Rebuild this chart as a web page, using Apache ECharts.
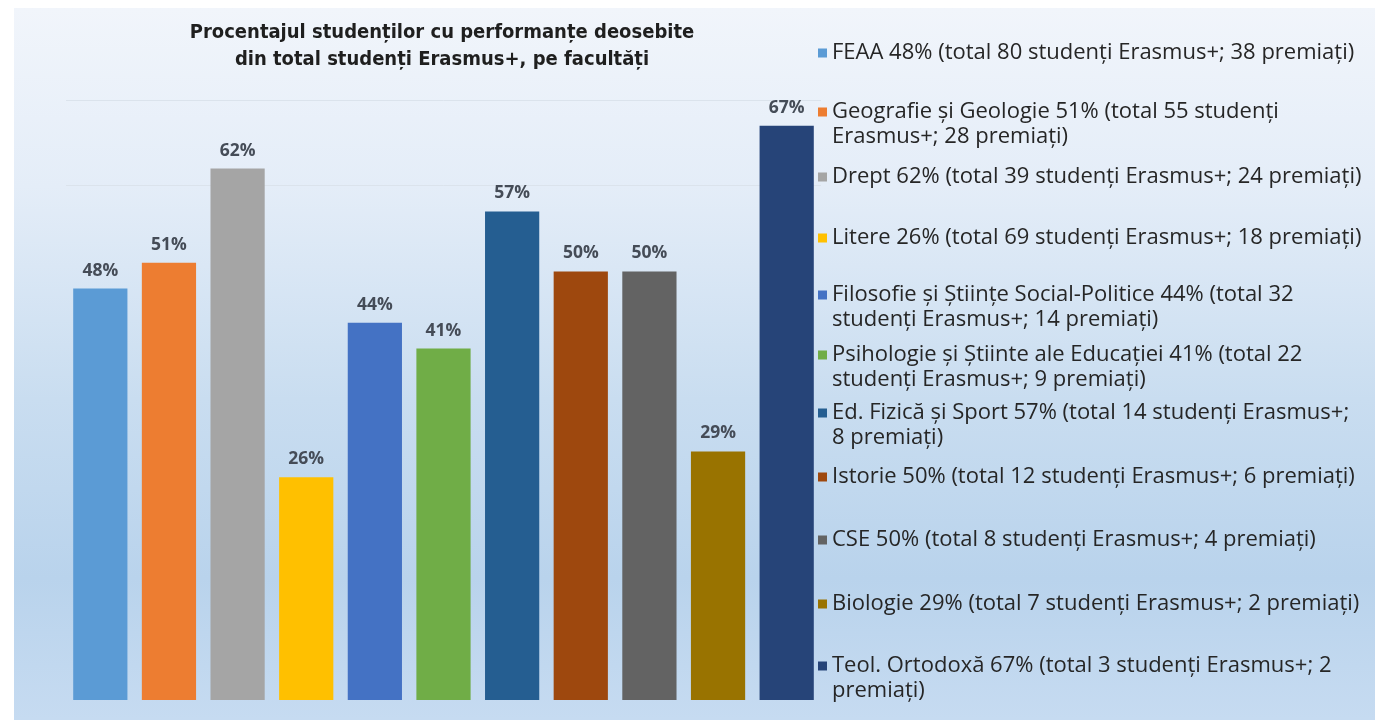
<!DOCTYPE html>
<html>
<head>
<meta charset="utf-8">
<script src="https://cdn.jsdelivr.net/npm/echarts@6/dist/echarts.min.js"></script>
<style>
html,body{margin:0;padding:0;background:#ffffff;}
#main{width:1375px;height:720px;}
</style>
</head>
<body>
<div id="main"></div>
<script>
// ---- data ----
const faculties = ['FEAA', 'Geografie și Geologie', 'Drept', 'Litere', 'Filosofie și Științe Social-Politice',
  'Psihologie și Științe ale Educației', 'Ed. Fizică și Sport', 'Istorie', 'CSE', 'Biologie', 'Teol. Ortodoxă'];
const percents = [48, 51, 62, 26, 44, 41, 57, 50, 50, 29, 67];
const totals = [80, 55, 39, 69, 32, 22, 14, 12, 8, 7, 3];
const awarded = [38, 28, 24, 18, 14, 9, 8, 6, 4, 2, 2];
const legendLabels = [
  'FEAA 48% (total 80 studenți Erasmus+; 38 premiați)',
  'Geografie și Geologie 51% (total 55 studenți\nErasmus+; 28 premiați)',
  'Drept 62% (total 39 studenți Erasmus+; 24 premiați)',
  'Litere 26% (total 69 studenți Erasmus+; 18 premiați)',
  'Filosofie și Științe Social-Politice 44% (total 32\nstudenți Erasmus+; 14 premiați)',
  'Psihologie și Știinte ale Educației 41% (total 22\nstudenți Erasmus+; 9 premiați)',
  'Ed. Fizică și Sport 57% (total 14 studenți Erasmus+;\n8 premiați)',
  'Istorie 50% (total 12 studenți Erasmus+; 6 premiați)',
  'CSE 50% (total 8 studenți Erasmus+; 4 premiați)',
  'Biologie 29% (total 7 studenți Erasmus+; 2 premiați)',
  'Teol. Ortodoxă 67% (total 3 studenți Erasmus+; 2\npremiați)'
];
const colors = ['#5b9bd5', '#ed7d31', '#a5a5a5', '#ffc000', '#4472c4', '#70ad47', '#255e91', '#9e480e', '#636363', '#997300', '#264478'];
const titleLines = ['Procentajul studenților cu performanțe deosebite', 'din total studenți Erasmus+, pe facultăți'];

// ---- layout (positions only) ----
const legendFirstLineY = [53, 112, 177, 238, 295, 355, 413, 477, 540, 604, 666];
const lineH = 25;

const chart = echarts.init(document.getElementById('main'), null, {renderer: 'canvas'});

const series = faculties.map((f, i) => ({
  name: legendLabels[i],
  type: 'bar',
  stack: 'all',
  barWidth: '79%',
  data: faculties.map((_, j) => (j === i ? percents[i] : '-')),
  itemStyle: {color: colors[i]},
  label: {
    show: true,
    position: 'top',
    distance: 9,
    formatter: p => p.value + '%',
    fontFamily: '"Open Sans", Lato, sans-serif',
    fontWeight: 'bold',
    fontSize: 17.5,
    color: '#454c57'
  }
}));

const legends = legendLabels.map((lab, i) => {
  const twoLines = lab.indexOf('\n') >= 0;
  return {
    data: [lab],
    left: 818,
    top: twoLines ? legendFirstLineY[i] - 1.5 * lineH : legendFirstLineY[i] - lineH / 2,
    orient: 'vertical',
    padding: 0,
    icon: 'rect',
    itemWidth: 9,
    itemHeight: 9,
    itemGap: 0,
    selectedMode: false,
    formatter: name => (twoLines ? ' \n' + name : name),
    textStyle: {
      fontFamily: '"Open Sans", Lato, sans-serif',
      fontSize: 22,
      color: '#262626',
      lineHeight: lineH
    }
  };
});

const option = {
  animation: false,
  backgroundColor: '#ffffff',
  graphic: [{
    type: 'rect',
    z: -10,
    silent: true,
    shape: {x: 14, y: 8, width: 1361, height: 712},
    style: {
      fill: new echarts.graphic.LinearGradient(0, 0, 0, 1, [
        {offset: 0, color: '#f1f5fb'},
        {offset: 0.25, color: '#e4edf8'},
        {offset: 0.55, color: '#c9ddf0'},
        {offset: 0.8, color: '#b9d3ec'},
        {offset: 1, color: '#c6dbf1'}
      ])
    }
  }],
  title: {
    text: titleLines.join('\n'),
    left: 437,
    top: 14,
    textAlign: 'center',
    textStyle: {
      fontFamily: '"Liberation Sans Narrow", "DejaVu Sans Condensed", "Liberation Sans", sans-serif',
      fontWeight: 'bold',
      fontSize: 20,
      lineHeight: 27,
      color: '#1f1f1f'
    }
  },
  legend: legends,
  grid: {left: 66, width: 755, top: 100, bottom: 20, containLabel: false},
  xAxis: {
    type: 'category',
    data: faculties,
    axisLine: {show: false},
    axisTick: {show: false},
    axisLabel: {show: false}
  },
  yAxis: {
    type: 'value',
    min: 0,
    max: 70,
    interval: 10,
    axisLine: {show: false},
    axisTick: {show: false},
    axisLabel: {show: false},
    splitLine: {
      show: true,
      lineStyle: {
        width: 1,
        color: ['rgba(0,0,0,0)', 'rgba(0,0,0,0)', 'rgba(0,0,0,0)', 'rgba(0,0,0,0)', 'rgba(0,0,0,0)', 'rgba(0,0,0,0)', '#dbe3ec', '#dbe3ec']
      }
    }
  },
  series: series
};

chart.setOption(option);
</script>
</body>
</html>
